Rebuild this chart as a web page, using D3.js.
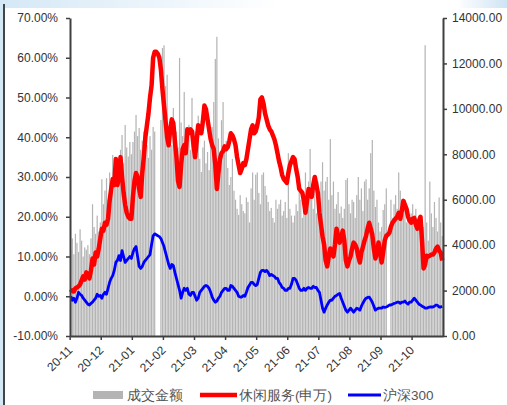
<html>
<head>
<meta charset="utf-8">
<style>
body { margin: 0; background: #fff; }
text { font-family: Arial, "Liberation Sans", sans-serif; }
</style>
<script type="text/javascript" src="https://cdn.jsdelivr.net/npm/d3@7"></script>
</head>
<body>
<div id="chart"></div>
<script type="text/javascript">
// month labels, one every 20 trading days
var tickLabels = ["20-11", "20-12", "21-01", "21-02", "21-03", "21-04",
	"21-05", "21-06", "21-07", "21-08", "21-09", "21-10"];
var tickEvery = 20;
var leftTicks = [-10, 0, 10, 20, 30, 40, 50, 60, 70];
var rightTicks = [0, 2000, 4000, 6000, 8000, 10000, 12000, 14000];
var legendNames = ["成交金额", "休闲服务(申万)", "沪深300"];

// 成交金额 (right axis)
var volume = [
	3800, 4300, 3600, 4500, 4100, 3700, 4700, 4200, 3500, 3900, 3800, 4000, 3600, 4300, 5800, 4800, 4500, 5300, 4600, 5000,
	6900, 5800, 6400, 6950, 6000, 7200, 6500, 7970, 7100, 6800, 7840, 7300, 8200, 8850, 7600, 9290, 8300, 7900, 8540, 8000,
	8540, 9000, 9730, 8800, 9160, 8200, 8600, 9000, 7840, 8400, 7840, 8800, 8200, 9200, 9000, 0, 0, 0, 9510, 12680,
	12800, 11000, 11500, 8800, 9200, 8400, 10040, 8600, 9000, 8300, 12240, 9400, 8800, 10740, 9000, 8400, 9300, 8200, 10480, 8800,
	9000, 8000, 9700, 7800, 7220, 8300, 8600, 7600, 8100, 7300, 8400, 9200, 10300, 12200, 13170, 8700, 8000, 9500, 10300, 8200,
	8600, 7400, 6650, 7000, 7800, 6400, 6000, 5600, 5330, 6200, 5800, 5500, 5400, 6100, 5900, 5000, 6500, 7200, 6000, 7100,
	7200, 6300, 5800, 7100, 7200, 6600, 6200, 5900, 5500, 5640, 5200, 5000, 6000, 5600, 5800, 6000, 5300, 5500, 5900, 5200,
	8050, 5600, 5300, 5000, 5300, 5800, 5500, 6500, 6000, 5200, 5700, 7200, 6200, 6800, 8230, 6000, 5600, 6400, 5400, 6800,
	6000, 6800, 7650, 6400, 6800, 7000, 6000, 8670, 6200, 6800, 5600, 5800, 6340, 5400, 5700, 5200, 5600, 6870, 6950, 5800,
	5400, 6000, 5900, 5200, 6200, 7000, 6000, 6500, 5500, 6800, 6900, 6000, 6500, 8050, 8630, 6400, 5680, 6000, 5000, 4600,
	4800, 5550, 5800, 6500, 0, 0, 6000, 5200, 5800, 6200, 5600, 7200, 6400, 5700, 5400, 6000, 5000, 5600, 5200, 5400,
	5800, 5000, 5600, 4800, 5300, 4600, 5200, 4800, 12800, 5000, 4200, 6800, 5400, 4800, 5900, 5200, 4600, 6100, 5000, 4400
];

// 休闲服务(申万), cumulative %, left axis
var leisure = [
	1.0, 1.5, 1.2, 2.0, 2.2, 2.5, 3.0, 4.0, 5.0, 4.2, 6.0, 5.0, 4.5, 6.5, 9.5, 8.0, 11.0, 10.0, 12.0, 14.5,
	17, 16.5, 18.5, 18, 19.5, 24, 27, 29.5, 28, 34.5, 28, 30, 35, 30, 26, 23, 21, 20, 19.5, 19.5,
	25, 29, 31, 30, 27, 25, 31, 35, 40, 43, 46, 50, 53, 60, 61.5, 61.5, 61, 60, 57, 52,
	48, 44, 40, 38, 42, 44.5, 43.5, 39, 35, 29, 27.5, 33, 37, 38, 36, 42, 41, 42, 41.5, 38,
	35, 39, 43, 42, 41, 44, 48, 47, 44.5, 42, 39.5, 38, 37, 33, 27, 31, 34.5, 36, 36.5, 37.7,
	37, 37.5, 39, 41, 40.5, 39.5, 38, 35, 33, 31, 32, 33.5, 33, 34.5, 37, 39.5, 42, 43, 41, 41.5,
	43, 45, 49.5, 50, 48.5, 46, 44.5, 43, 42, 41.5, 40.5, 39.5, 38, 36, 34, 32.5, 30.5, 29.5, 29, 28.5,
	31, 33, 34, 35, 34.5, 32, 30, 27, 26.5, 26, 24, 21, 24, 27, 26, 25, 28, 30, 28, 26,
	21, 18, 15, 13, 9, 7.5, 10, 12, 11, 10, 13, 17, 15, 13.5, 15, 16.5, 14, 9, 7.5, 9,
	10, 12, 13.5, 13, 12, 10, 8.5, 11, 12.5, 14, 15.2, 17, 18.5, 17, 15.5, 12, 9.5, 11, 13.5, 11,
	8.5, 11, 14, 15.2, 15.5, 16, 17.5, 18.5, 19, 19.5, 20, 21, 19.5, 21.5, 24, 23, 22, 20, 19, 18.5,
	19.5, 19.7, 18, 17, 19, 20, 14, 7, 8, 10.2, 10, 10.2, 10.5, 10.5, 11, 12, 12.5, 11.5, 11, 9
];

// 沪深300, cumulative %, left axis
var hs300 = [
	0, -1, -0.5, -1.5, -0.5, 1, 0.5, 0.2, -0.5, -1, -1.5, -2, -2.2, -1.8, -1.5, -1, -0.5, 0.5, 0, 0.2,
	-0.5, 0.5, 1, 0.5, 2, 3.5, 4.5, 5.2, 6.5, 8.5, 9, 10.2, 9, 11.5, 10, 8.5, 9, 9.5, 10, 9.5,
	11, 12, 12.5, 10, 7.5, 7, 7.5, 8.5, 9, 9.5, 10, 10.5, 13, 15.2, 15.7, 15.5, 15.2, 15, 14.5, 13.5,
	12.5, 11, 9.5, 8, 7, 8, 7.7, 6, 4.5, 3, 1.5, -0.5, 1, 2, 1.5, 2, 0.5, 0.2, 1, 1,
	0, -1, -0.5, 1, 1.5, 2, 2.5, 2.7, 2.5, 2, 1, -0.2, -1, -1.5, -1.2, -0.5, 0, 1, 1.5, 2,
	2, 1.5, 1.5, 2.7, 2.5, 2, 1.5, 1, 0, -0.2, -0.2, 0.2, 0, 1, 2.2, 2.8, 3.5, 3.5, 3, 2.7,
	3, 4.5, 6, 6.5, 6.5, 6.2, 6.5, 6, 5.2, 5.5, 5.2, 5, 4.5, 4.5, 3.5, 3, 2.2, 2, 1.5, 1.5,
	2, 2, 3, 4.5, 4.5, 4, 3, 2, 1.5, 1.5, 2, 1.5, 2, 2.2, 2, 2, 2.5, 2.2, 2.2, 1.5,
	1, -1, -3, -4, -3, -2.2, -1.5, -1, -1, -0.5, 0, 0.2, 0.5, 0.7, -0.5, -1.5, -2.5, -3.5, -4, -3.5,
	-3, -3.5, -4, -3.5, -3, -3.2, -3.5, -2.5, -1.7, -1, -0.5, -0.3, -0.2, -0.8, -1.5, -2.5, -3.5, -3.2, -3, -3,
	-3, -2.7, -2.8, -2.7, -2.5, -2.2, -2.2, -2, -1.8, -1.7, -1.5, -1.5, -1.8, -1.5, -1.5, -1.2, -1.7, -2, -1.5, -1.5,
	-1, -0.5, -1, -1.5, -2, -2.2, -2.5, -2.7, -3, -3, -2.8, -2.7, -2.7, -2.7, -2.5, -2.2, -2.3, -2.7, -2.7, -2.5
];

var w = 507, h = 405,
	plotLeft = 70, plotRight = 443, plotTop = 18, plotBottom = 336,
	axisColor = "#404040", labelColor = "#333";

var svg = d3.select("#chart").append("svg")
	.attr("width", w)
	.attr("height", h);

// slide-ish backdrop
var grad = svg.append("defs").append("linearGradient")
	.attr("id", "bg").attr("x1", 0).attr("x2", 1).attr("y1", 0).attr("y2", 0);
grad.append("stop").attr("offset", "0%").attr("stop-color", "#d4e8f6");
grad.append("stop").attr("offset", "55%").attr("stop-color", "#ffffff");
grad.append("stop").attr("offset", "90%").attr("stop-color", "#ffffff");
grad.append("stop").attr("offset", "100%").attr("stop-color", "#cfe4f4");
svg.append("rect").attr("width", w).attr("height", h).attr("fill", "url(#bg)");
svg.append("rect").attr("x", 0).attr("y", 0).attr("width", 4).attr("height", h).attr("fill", "#d4e8f6");
svg.append("rect").attr("x", 5).attr("y", 8).attr("width", w - 5).attr("height", h - 8).attr("fill", "#fff");
svg.append("line").attr("x1", 4).attr("x2", 4).attr("y1", 4).attr("y2", h)
	.style("stroke", "#111").style("stroke-width", 1.5);

var x = d3.scaleBand()
	.domain(d3.range(volume.length))
	.range([plotLeft, plotRight])
	.paddingInner(0.22)
	.paddingOuter(0.1);

var yL = d3.scaleLinear().domain([-10, 70]).range([plotBottom, plotTop]);
var yR = d3.scaleLinear().domain([0, 14000]).range([plotBottom, plotTop]);

function cx(i) { return x(i) + x.bandwidth() / 2; }

// bars
svg.append("g").selectAll("rect")
	.data(volume)
	.enter().append("rect")
	.attr("x", function(d, i) { return x(i); })
	.attr("width", x.bandwidth())
	.attr("y", function(d) { return yR(d); })
	.attr("height", function(d) { return yR(0) - yR(d); })
	.style("fill", "#b4b4b4");

var line = d3.line()
	.x(function(d, i) { return cx(i); })
	.y(function(d) { return yL(d); })
	.curve(d3.curveLinear);

svg.append("path")
	.datum(hs300)
	.attr("d", line)
	.style("fill", "none")
	.style("stroke", "#0000ff")
	.style("stroke-width", 2.8)
	.style("stroke-linejoin", "round");

svg.append("path")
	.datum(leisure)
	.attr("d", line)
	.style("fill", "none")
	.style("stroke", "#ff0000")
	.style("stroke-width", 4.5)
	.style("stroke-linejoin", "round");

// axes
var gL = svg.append("g")
	.attr("transform", "translate(" + plotLeft + ",0)")
	.call(d3.axisLeft(yL).tickValues(leftTicks).tickSize(4).tickSizeOuter(0).tickPadding(8)
		.tickFormat(function(d) { return d.toFixed(2) + "%"; }));

var gR = svg.append("g")
	.attr("transform", "translate(" + plotRight + ",0)")
	.call(d3.axisRight(yR).tickValues(rightTicks).tickSize(4).tickSizeOuter(0).tickPadding(5)
		.tickFormat(function(d) { return d.toFixed(2); }));

var xTicks = d3.range(0, volume.length, tickEvery);
var gB = svg.append("g")
	.attr("transform", "translate(0," + plotBottom + ")")
	.call(d3.axisBottom(x).tickValues(xTicks).tickSize(4).tickSizeOuter(0)
		.tickFormat(function(d) { return tickLabels[d / tickEvery]; }));

gB.selectAll(".tick").attr("transform", function(d) { return "translate(" + x(d) + ",0)"; });
gB.selectAll(".tick text")
	.attr("x", 0).attr("y", 0).attr("dy", "0.35em")
	.attr("transform", "translate(0,12) rotate(-45)")
	.style("text-anchor", "end");

[gL, gR, gB].forEach(function(g) {
	g.select(".domain").style("stroke", axisColor).style("stroke-width", 2);
	g.selectAll(".tick line").style("stroke", axisColor).style("stroke-width", 1.5);
	g.selectAll(".tick text").style("fill", labelColor).style("font-size", "12px")
		.style("font-family", "Arial, 'Liberation Sans', sans-serif");
});

// legend
var lg = svg.append("g").style("font-size", "13.5px")
	.style("font-family", "Arial, 'Liberation Sans', 'Noto Sans CJK SC', sans-serif")
	.style("fill", "#555");
lg.append("rect").attr("x", 93).attr("y", 391).attr("width", 30).attr("height", 8).style("fill", "#b4b4b4");
lg.append("text").attr("x", 127).attr("y", 400).text(legendNames[0]);
lg.append("line").attr("x1", 200).attr("x2", 237).attr("y1", 395).attr("y2", 395)
	.style("stroke", "#ff0000").style("stroke-width", 4.5);
lg.append("text").attr("x", 239).attr("y", 400).text(legendNames[1]);
lg.append("line").attr("x1", 348).attr("x2", 381).attr("y1", 395).attr("y2", 395)
	.style("stroke", "#0000ff").style("stroke-width", 2.8);
lg.append("text").attr("x", 383).attr("y", 400).text(legendNames[2]);
</script>
</body>
</html>
